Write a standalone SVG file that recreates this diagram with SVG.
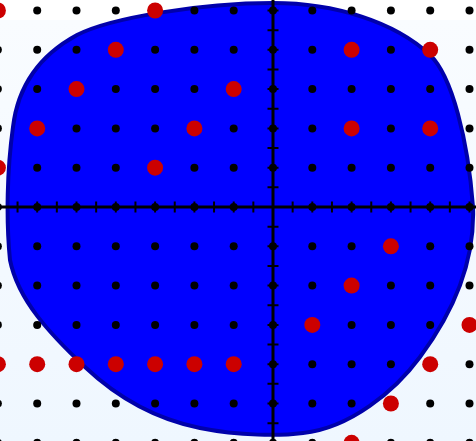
<svg xmlns="http://www.w3.org/2000/svg" width="476" height="441" viewBox="0 0 476 441">
<defs>
<linearGradient id="bg" x1="0" y1="0" x2="0" y2="1">
<stop offset="0" stop-color="#f9fcff"/>
<stop offset="1" stop-color="#eff7ff"/>
</linearGradient>
<style>
.b{fill:#000}
.r{fill:#cc0000}
.ax{stroke:#000;stroke-width:3;fill:none}
.tk{stroke:#000;stroke-width:2;fill:none}
</style>
</defs>
<rect width="476" height="441" fill="#fff"/>
<rect y="20" width="476" height="421" fill="url(#bg)"/>
<g id="region">
<path d="M273 3 C335 3 395 22 430 55 C452 76 468 140 473 207 C475 260 455 310 420 357 C395 391 350 428 303 433 C280 436 240 436 200 428 C160 420 120 400 85 367 C50 334 18 300 10 260 C6 220 7 170 13 127 C18 85 40 55 77 35 C110 18 200 3 273 3 Z" fill="#0000ff" stroke="#0000aa" stroke-width="4"/>
</g>
<g id="axes">
<line class="ax" x1="0" y1="207" x2="476" y2="207"/>
<line class="ax" x1="273" y1="0" x2="273" y2="441"/>
<path class="tk" d="M-2.1 201.5V212.5M17.55 201.5V212.5M37.2 201.5V212.5M56.85 201.5V212.5M76.5 201.5V212.5M96.15 201.5V212.5M115.8 201.5V212.5M135.45 201.5V212.5M155.1 201.5V212.5M174.75 201.5V212.5M194.4 201.5V212.5M214.05 201.5V212.5M233.7 201.5V212.5M253.35 201.5V212.5M292.65 201.5V212.5M312.3 201.5V212.5M331.95 201.5V212.5M351.6 201.5V212.5M371.25 201.5V212.5M390.9 201.5V212.5M410.55 201.5V212.5M430.2 201.5V212.5M449.85 201.5V212.5M469.5 201.5V212.5"/>
<path class="tk" d="M267.5 10.5H278.5M267.5 30.15H278.5M267.5 49.8H278.5M267.5 69.45H278.5M267.5 89.1H278.5M267.5 108.75H278.5M267.5 128.4H278.5M267.5 148.05H278.5M267.5 167.7H278.5M267.5 187.35H278.5M267.5 226.65H278.5M267.5 246.3H278.5M267.5 265.95H278.5M267.5 285.6H278.5M267.5 305.25H278.5M267.5 324.9H278.5M267.5 344.55H278.5M267.5 364.2H278.5M267.5 383.85H278.5M267.5 403.5H278.5M267.5 423.15H278.5M267.5 442.8H278.5"/>
</g>
<g id="dots">
<!-- row y=10.5 -->
<circle class="r" cx="-2.1" cy="10.5" r="8"/><circle class="b" cx="37.2" cy="10.5" r="4"/><circle class="b" cx="76.5" cy="10.5" r="4"/><circle class="b" cx="115.8" cy="10.5" r="4"/><circle class="r" cx="155.1" cy="10.5" r="8"/><circle class="b" cx="194.4" cy="10.5" r="4"/><circle class="b" cx="233.7" cy="10.5" r="4"/><circle class="b" cx="273" cy="10.5" r="4"/><circle class="b" cx="312.3" cy="10.5" r="4"/><circle class="b" cx="351.6" cy="10.5" r="4"/><circle class="b" cx="390.9" cy="10.5" r="4"/><circle class="b" cx="430.2" cy="10.5" r="4"/><circle class="b" cx="469.5" cy="10.5" r="4"/>
<!-- row y=49.8 -->
<circle class="b" cx="-2.1" cy="49.8" r="4"/><circle class="b" cx="37.2" cy="49.8" r="4"/><circle class="b" cx="76.5" cy="49.8" r="4"/><circle class="r" cx="115.8" cy="49.8" r="8"/><circle class="b" cx="155.1" cy="49.8" r="4"/><circle class="b" cx="194.4" cy="49.8" r="4"/><circle class="b" cx="233.7" cy="49.8" r="4"/><circle class="b" cx="273" cy="49.8" r="4"/><circle class="b" cx="312.3" cy="49.8" r="4"/><circle class="r" cx="351.6" cy="49.8" r="8"/><circle class="b" cx="390.9" cy="49.8" r="4"/><circle class="r" cx="430.2" cy="49.8" r="8"/><circle class="b" cx="469.5" cy="49.8" r="4"/>
<!-- row y=89.1 -->
<circle class="b" cx="-2.1" cy="89.1" r="4"/><circle class="b" cx="37.2" cy="89.1" r="4"/><circle class="r" cx="76.5" cy="89.1" r="8"/><circle class="b" cx="115.8" cy="89.1" r="4"/><circle class="b" cx="155.1" cy="89.1" r="4"/><circle class="b" cx="194.4" cy="89.1" r="4"/><circle class="r" cx="233.7" cy="89.1" r="8"/><circle class="b" cx="273" cy="89.1" r="4"/><circle class="b" cx="312.3" cy="89.1" r="4"/><circle class="b" cx="351.6" cy="89.1" r="4"/><circle class="b" cx="390.9" cy="89.1" r="4"/><circle class="b" cx="430.2" cy="89.1" r="4"/><circle class="b" cx="469.5" cy="89.1" r="4"/>
<!-- row y=128.4 -->
<circle class="b" cx="-2.1" cy="128.4" r="4"/><circle class="r" cx="37.2" cy="128.4" r="8"/><circle class="b" cx="76.5" cy="128.4" r="4"/><circle class="b" cx="115.8" cy="128.4" r="4"/><circle class="b" cx="155.1" cy="128.4" r="4"/><circle class="r" cx="194.4" cy="128.4" r="8"/><circle class="b" cx="233.7" cy="128.4" r="4"/><circle class="b" cx="273" cy="128.4" r="4"/><circle class="b" cx="312.3" cy="128.4" r="4"/><circle class="r" cx="351.6" cy="128.4" r="8"/><circle class="b" cx="390.9" cy="128.4" r="4"/><circle class="r" cx="430.2" cy="128.4" r="8"/><circle class="b" cx="469.5" cy="128.4" r="4"/>
<!-- row y=167.7 -->
<circle class="r" cx="-2.1" cy="167.7" r="8"/><circle class="b" cx="37.2" cy="167.7" r="4"/><circle class="b" cx="76.5" cy="167.7" r="4"/><circle class="b" cx="115.8" cy="167.7" r="4"/><circle class="r" cx="155.1" cy="167.7" r="8"/><circle class="b" cx="194.4" cy="167.7" r="4"/><circle class="b" cx="233.7" cy="167.7" r="4"/><circle class="b" cx="273" cy="167.7" r="4"/><circle class="b" cx="312.3" cy="167.7" r="4"/><circle class="b" cx="351.6" cy="167.7" r="4"/><circle class="b" cx="390.9" cy="167.7" r="4"/><circle class="b" cx="430.2" cy="167.7" r="4"/><circle class="b" cx="469.5" cy="167.7" r="4"/>
<!-- row y=207 -->
<circle class="b" cx="-2.1" cy="207" r="4"/><circle class="b" cx="37.2" cy="207" r="4"/><circle class="b" cx="76.5" cy="207" r="4"/><circle class="b" cx="115.8" cy="207" r="4"/><circle class="b" cx="155.1" cy="207" r="4"/><circle class="b" cx="194.4" cy="207" r="4"/><circle class="b" cx="233.7" cy="207" r="4"/><circle class="b" cx="312.3" cy="207" r="4"/><circle class="b" cx="351.6" cy="207" r="4"/><circle class="b" cx="390.9" cy="207" r="4"/><circle class="b" cx="430.2" cy="207" r="4"/><circle class="b" cx="469.5" cy="207" r="4"/>
<!-- row y=246.3 -->
<circle class="b" cx="-2.1" cy="246.3" r="4"/><circle class="b" cx="37.2" cy="246.3" r="4"/><circle class="b" cx="76.5" cy="246.3" r="4"/><circle class="b" cx="115.8" cy="246.3" r="4"/><circle class="b" cx="155.1" cy="246.3" r="4"/><circle class="b" cx="194.4" cy="246.3" r="4"/><circle class="b" cx="233.7" cy="246.3" r="4"/><circle class="b" cx="273" cy="246.3" r="4"/><circle class="b" cx="312.3" cy="246.3" r="4"/><circle class="b" cx="351.6" cy="246.3" r="4"/><circle class="r" cx="390.9" cy="246.3" r="8"/><circle class="b" cx="430.2" cy="246.3" r="4"/><circle class="b" cx="469.5" cy="246.3" r="4"/>
<!-- row y=285.6 -->
<circle class="b" cx="-2.1" cy="285.6" r="4"/><circle class="b" cx="37.2" cy="285.6" r="4"/><circle class="b" cx="76.5" cy="285.6" r="4"/><circle class="b" cx="115.8" cy="285.6" r="4"/><circle class="b" cx="155.1" cy="285.6" r="4"/><circle class="b" cx="194.4" cy="285.6" r="4"/><circle class="b" cx="233.7" cy="285.6" r="4"/><circle class="b" cx="273" cy="285.6" r="4"/><circle class="b" cx="312.3" cy="285.6" r="4"/><circle class="r" cx="351.6" cy="285.6" r="8"/><circle class="b" cx="390.9" cy="285.6" r="4"/><circle class="b" cx="430.2" cy="285.6" r="4"/><circle class="b" cx="469.5" cy="285.6" r="4"/>
<!-- row y=324.9 -->
<circle class="b" cx="-2.1" cy="324.9" r="4"/><circle class="b" cx="37.2" cy="324.9" r="4"/><circle class="b" cx="76.5" cy="324.9" r="4"/><circle class="b" cx="115.8" cy="324.9" r="4"/><circle class="b" cx="155.1" cy="324.9" r="4"/><circle class="b" cx="194.4" cy="324.9" r="4"/><circle class="b" cx="233.7" cy="324.9" r="4"/><circle class="b" cx="273" cy="324.9" r="4"/><circle class="r" cx="312.3" cy="324.9" r="8"/><circle class="b" cx="351.6" cy="324.9" r="4"/><circle class="b" cx="390.9" cy="324.9" r="4"/><circle class="b" cx="430.2" cy="324.9" r="4"/><circle class="r" cx="469.5" cy="324.9" r="8"/>
<!-- row y=364.2 -->
<circle class="r" cx="-2.1" cy="364.2" r="8"/><circle class="r" cx="37.2" cy="364.2" r="8"/><circle class="r" cx="76.5" cy="364.2" r="8"/><circle class="r" cx="115.8" cy="364.2" r="8"/><circle class="r" cx="155.1" cy="364.2" r="8"/><circle class="r" cx="194.4" cy="364.2" r="8"/><circle class="r" cx="233.7" cy="364.2" r="8"/><circle class="b" cx="273" cy="364.2" r="4"/><circle class="b" cx="312.3" cy="364.2" r="4"/><circle class="b" cx="351.6" cy="364.2" r="4"/><circle class="b" cx="390.9" cy="364.2" r="4"/><circle class="r" cx="430.2" cy="364.2" r="8"/><circle class="b" cx="469.5" cy="364.2" r="4"/>
<!-- row y=403.5 -->
<circle class="b" cx="-2.1" cy="403.5" r="4"/><circle class="b" cx="37.2" cy="403.5" r="4"/><circle class="b" cx="76.5" cy="403.5" r="4"/><circle class="b" cx="115.8" cy="403.5" r="4"/><circle class="b" cx="155.1" cy="403.5" r="4"/><circle class="b" cx="194.4" cy="403.5" r="4"/><circle class="b" cx="233.7" cy="403.5" r="4"/><circle class="b" cx="273" cy="403.5" r="4"/><circle class="b" cx="312.3" cy="403.5" r="4"/><circle class="b" cx="351.6" cy="403.5" r="4"/><circle class="r" cx="390.9" cy="403.5" r="8"/><circle class="b" cx="430.2" cy="403.5" r="4"/><circle class="b" cx="469.5" cy="403.5" r="4"/>
<!-- row y=442.8 -->
<circle class="b" cx="-2.1" cy="442.8" r="4"/><circle class="b" cx="37.2" cy="442.8" r="4"/><circle class="b" cx="76.5" cy="442.8" r="4"/><circle class="b" cx="115.8" cy="442.8" r="4"/><circle class="b" cx="155.1" cy="442.8" r="4"/><circle class="b" cx="194.4" cy="442.8" r="4"/><circle class="b" cx="233.7" cy="442.8" r="4"/><circle class="b" cx="273" cy="442.8" r="4"/><circle class="b" cx="312.3" cy="442.8" r="4"/><circle class="r" cx="351.6" cy="442.8" r="8"/><circle class="b" cx="390.9" cy="442.8" r="4"/><circle class="b" cx="430.2" cy="442.8" r="4"/><circle class="b" cx="469.5" cy="442.8" r="4"/>
</g>
</svg>
